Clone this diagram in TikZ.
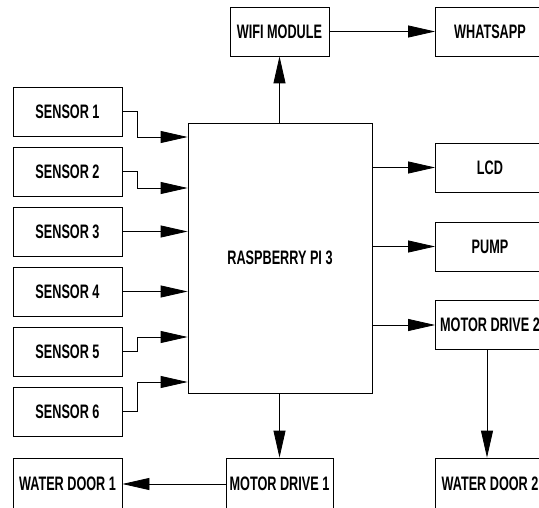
\documentclass[tikz,border=0pt]{standalone}
\usepackage{fontspec}
\newfontfamily\boxfont{Liberation Sans}[FakeStretch=0.65]
\usepackage{tikz}
\usetikzlibrary{arrows.meta, calc}

\tikzset{
    blk/.style={draw, line width=0.8pt, inner sep=0pt, minimum height=49pt,
        minimum width=109pt, font=\boxfont\bfseries\fontsize{19.5}{21}\selectfont},
    arr/.style={draw, line width=0.8pt, -{Triangle[length=27pt, width=12pt]}}
}

\begin{document}
\begin{tikzpicture}[x=1pt, y=-1pt]
    \useasboundingbox (0,0) rectangle (539,508);
    \fill[white] (0,0) rectangle (539,508);
    \clip (0,0) rectangle (539,508);

    % Controller
    \node[blk, minimum width=184pt, minimum height=270pt] (pi) at (280,258) {RASPBERRY PI 3};

    % Sensors
    \foreach \i in {1,...,6} {
        \node[blk] (s\i) at (67.5,{111.5+60*(\i-1)}) {SENSOR \i};
    }

    % Outputs
    \node[blk, minimum width=99pt] (wifi) at (279.5,31.5) {WIFI MODULE};
    \node[blk] (whats) at (490,31.5) {WHATSAPP};
    \node[blk] (lcd) at (490,167.5) {LCD};
    \node[blk] (pump) at (490,246.5) {PUMP};
    \node[blk] (md2) at (490,325) {MOTOR DRIVE 2};
    \node[blk, minimum height=52pt] (wd2) at (490,484) {WATER DOOR 2};
    \node[blk, minimum width=107pt, minimum height=52pt] (md1) at (279.5,484) {MOTOR DRIVE 1};
    \node[blk, minimum height=52pt] (wd1) at (67.5,484) {WATER DOOR 1};

    % Sensor lines
    \foreach \i/\yy in {1/137, 2/188, 3/231.5, 4/291.5, 5/337, 6/382} {
        \draw[arr] (s\i.east) -- ++(15,0) |- (pi.west |- 0,\yy);
    }

    % Controller lines
    \draw[arr] (pi.north -| wifi.south) -- (wifi.south);
    \draw[arr] (wifi.east) -- (whats.west);
    \draw[arr] (pi.east |- lcd.west) -- (lcd.west);
    \draw[arr] (pi.east |- pump.west) -- (pump.west);
    \draw[arr] (pi.east |- md2.west) -- (md2.west);
    \draw[arr] (md2.south -| 487,0) -- (wd2.north -| 487,0);
    \draw[arr] (pi.south -| md1.north) -- (md1.north);
    \draw[arr] (md1.west) -- (wd1.east);
\end{tikzpicture}
\end{document}
